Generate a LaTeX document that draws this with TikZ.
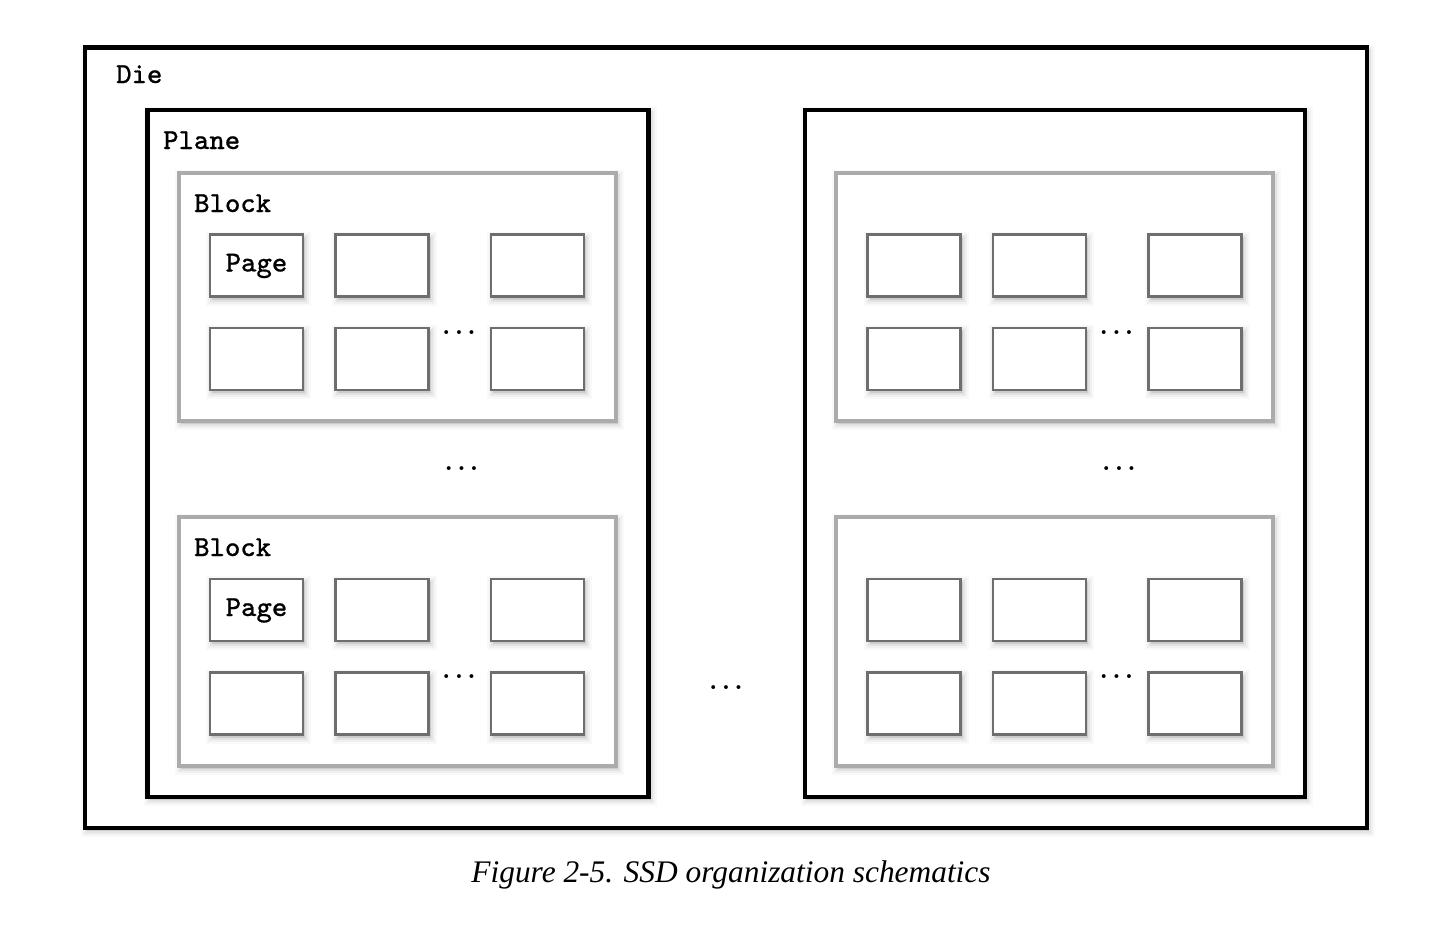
\documentclass[tikz,border=0pt]{standalone}
\usepackage{fontspec}
\newfontfamily\capfont{Liberation Serif}
\newfontfamily\lblfont[FakeBold=0.7]{lmmono8-regular.otf}
\definecolor{blockgray}{HTML}{ABABAB}
\definecolor{pagegray}{HTML}{6E6E6E}
\newcommand\boxnode[6]{\node[#1,anchor=north west,outer sep=0pt,inner sep=0pt,minimum width={((#5)-(#3))*1pt},minimum height={((#6)-(#4))*1pt}] (#2) at (#3,#4) {};}
\tikzset{
  softshadow/.style={
    preaction={fill=black,opacity=.10,transform canvas={shift={(2pt,-3pt)}}},
    preaction={draw=black,opacity=.05,line width=4pt,transform canvas={shift={(2pt,-3pt)}}},
    preaction={draw=black,opacity=.035,line width=8pt,transform canvas={shift={(2pt,-3pt)}}},
    preaction={draw=black,opacity=.025,line width=12pt,transform canvas={shift={(2pt,-3pt)}}}
  },
  diebox/.style={draw=black,line width=4.2pt,fill=white,softshadow},
  planebox/.style={draw=black,line width=4.2pt,fill=white,softshadow},
  blockbox/.style={draw=blockgray,line width=4pt,fill=white,softshadow},
  pagebox/.style={draw=pagegray,line width=2.2pt,fill=white,softshadow},
  lbl/.style={anchor=base west,inner sep=0pt,font=\fontsize{29}{34}\selectfont\lblfont},
  pagelbl/.style={anchor=base,inner sep=0pt,font=\fontsize{29}{34}\selectfont\lblfont},
  dotslbl/.style={anchor=base,inner sep=0pt,font=\fontsize{27}{30}\selectfont\boldmath}
}
\begin{document}
\begin{tikzpicture}[x=1pt,y=-1pt]
\useasboundingbox (0,0) rectangle (1446,926);
% Die
\boxnode{diebox}{die}{85}{47.5}{1367}{828}
\node[lbl] (dielbl) at (116,83) {Die};
% Planes
\boxnode{planebox}{planeL}{147.5}{110}{648.5}{797}
\boxnode{planebox}{planeR}{805}{110}{1305}{797}
\node[lbl] (planelbl) at (163,149) {Plane};
% Blocks and pages
\foreach \pl/\bx in {L/178.5,R/836}{
  \foreach \bk/\by in {1/172.5,2/517}{
    \boxnode{blockbox}{block\pl\bk}{\bx}{\by}{\bx+437}{\by+248.5}
    \foreach \r/\ry in {1/62,2/155.5}{
      \foreach \c/\cx in {1/31.5,2/157,3/312.5}{
        \boxnode{pagebox}{page\pl\bk\r\c}{\bx+\cx}{\by+\ry}{\bx+\cx+93}{\by+\ry+62}
      }
    }
    \node[dotslbl] (dots\pl\bk) at (\bx+280.5,\by+161.5) {$\ldots$};
  }
  \node[dotslbl] (between\pl) at (\bx+283,470) {$\ldots$};
}
\node[lbl] (blocklbl1) at (194,212) {Block};
\node[lbl] (blocklbl2) at (194,556) {Block};
\node[pagelbl,yshift=-6pt] (pagelbl1) at (pageL111) {Page};
\node[pagelbl,yshift=-6pt] (pagelbl2) at (pageL211) {Page};
\node[dotslbl] (planedots) at (726,689) {$\ldots$};
% Caption
\node[anchor=base,inner sep=0pt,font=\fontsize{31.4}{36}\selectfont\capfont\itshape] (caption) at (731,882) {Figure 2-5. SSD organization schematics};
\end{tikzpicture}
\end{document}
